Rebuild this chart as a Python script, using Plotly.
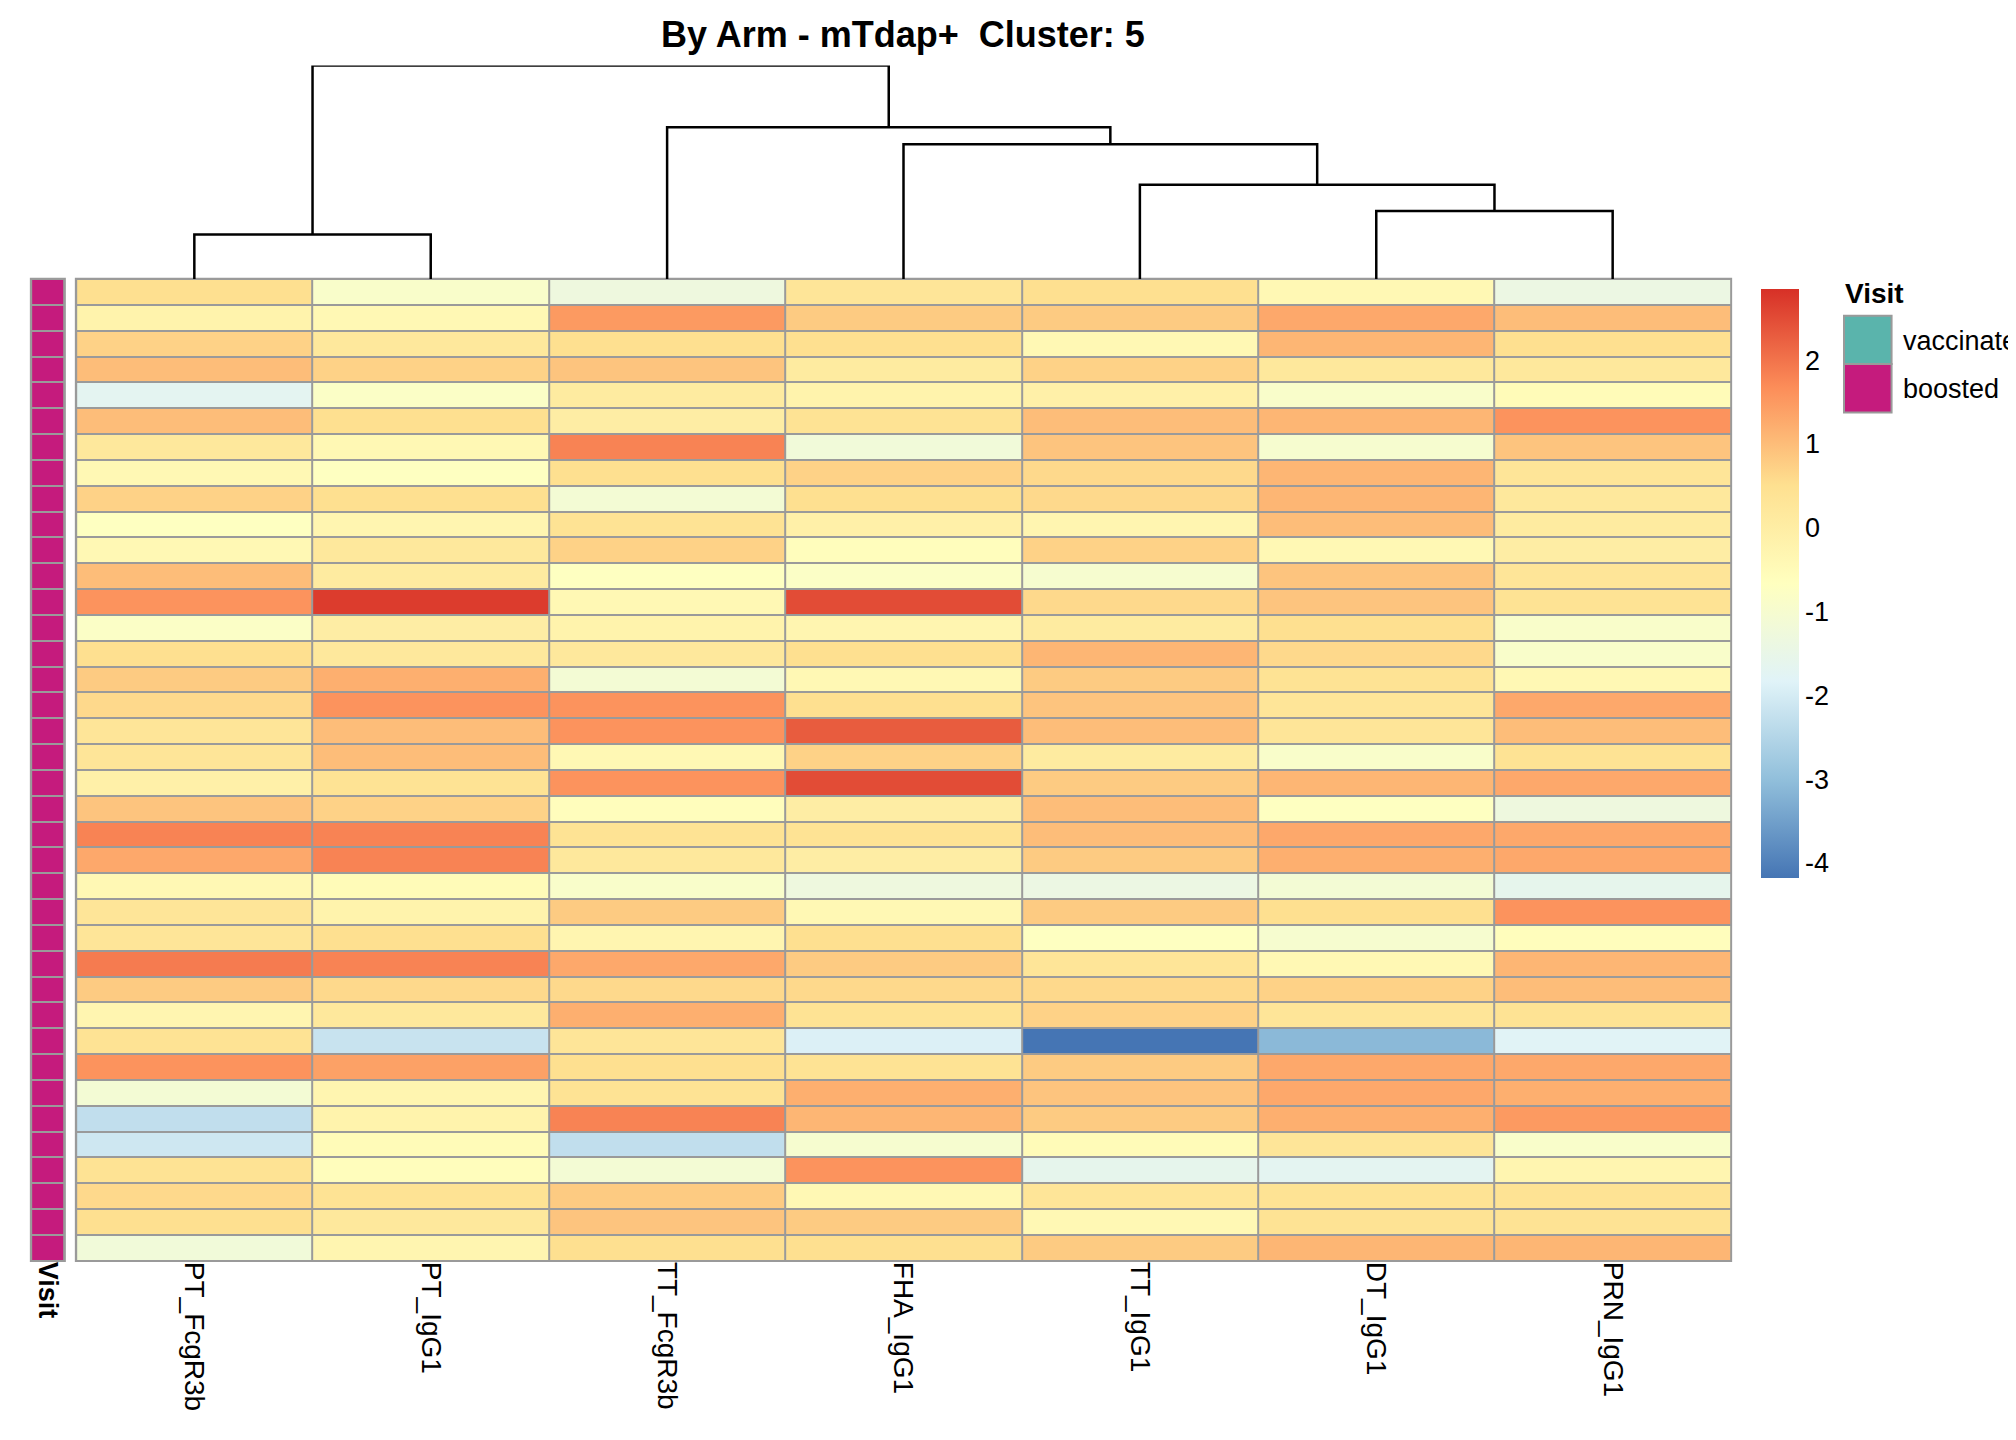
import plotly.graph_objects as go

# Column order as drawn (after clustering)
columns = ["PT_FcgR3b", "PT_IgG1", "TT_FcgR3b", "FHA_IgG1", "TT_IgG1", "DT_IgG1", "PRN_IgG1"]

# Scaled values, one row per sample (top to bottom)
values = [
    [0.5, -0.9, -1.3, 0.3, 0.5, -0.4, -1.4],
    [-0.2, -0.4, 1.5, 0.8, 0.8, 1.3, 1.0],
    [0.7, 0.2, 0.5, 0.5, -0.4, 1.1, 0.5],
    [1.0, 0.7, 0.9, 0.1, 0.7, 0.2, 0.2],
    [-1.7, -0.8, 0.1, -0.2, -0.1, -0.9, -0.5],
    [1.0, 0.5, 0.0, 0.4, 1.0, 1.1, 1.6],
    [0.2, -0.4, 1.8, -1.2, 0.9, -1.0, 0.9],
    [-0.4, -0.7, 0.5, 0.7, 0.6, 1.1, 0.3],
    [0.7, 0.5, -1.1, 0.5, 0.6, 1.1, 0.2],
    [-0.7, -0.3, 0.4, -0.1, -0.3, 1.0, 0.1],
    [-0.4, 0.2, 0.7, -0.6, 0.7, -0.4, 0.0],
    [1.0, 0.1, -0.7, -0.8, -1.0, 0.9, 0.3],
    [1.6, 2.7, -0.4, 2.5, 0.6, 0.9, 0.4],
    [-0.8, 0.0, -0.2, -0.3, 0.1, 0.5, -0.9],
    [0.5, 0.2, 0.2, 0.5, 1.1, 0.6, -0.9],
    [0.8, 1.2, -1.1, -0.4, 0.8, 0.4, -0.4],
    [0.6, 1.6, 1.6, 0.5, 0.9, 0.3, 1.3],
    [0.3, 1.0, 1.6, 2.3, 1.0, 0.3, 1.0],
    [0.3, 1.0, -0.4, 0.7, 0.1, -0.9, 0.4],
    [-0.1, 0.4, 1.6, 2.5, 0.8, 1.1, 1.3],
    [0.9, 0.7, -0.6, 0.0, 1.0, -0.7, -1.3],
    [1.8, 1.8, 0.4, 0.4, 1.0, 1.3, 1.3],
    [1.3, 1.8, 0.2, 0.0, 0.8, 1.2, 1.3],
    [-0.4, -0.5, -0.9, -1.3, -1.4, -1.1, -1.6],
    [0.3, -0.2, 0.8, -0.4, 0.8, 0.5, 1.6],
    [0.3, 0.5, -0.3, 0.5, -0.7, -1.0, -0.6],
    [1.9, 1.8, 1.3, 0.8, 0.3, -0.4, 1.1],
    [0.8, 0.6, 0.6, 0.6, 0.6, 0.7, 1.0],
    [-0.3, 0.2, 1.2, 0.4, 0.7, 0.3, 0.4],
    [0.4, -2.2, 0.3, -1.9, -4.2, -3.1, -1.8],
    [1.6, 1.4, 0.5, 0.4, 0.8, 1.3, 1.3],
    [-1.1, -0.3, 0.4, 1.2, 0.9, 1.3, 1.2],
    [-2.3, -0.2, 1.8, 1.1, 0.8, 1.2, 1.5],
    [-2.1, -0.5, -2.3, -1.0, -0.5, 0.3, -0.9],
    [0.4, -0.6, -1.1, 1.6, -1.6, -1.7, -0.3],
    [0.6, 0.4, 0.8, -0.4, 0.3, 0.4, 0.4],
    [0.5, 0.2, 0.9, 0.8, -0.4, 0.4, 0.4],
    [-1.2, -0.3, 0.5, 0.5, 0.8, 1.1, 1.1],
]
n_rows = len(values)
visit = ["boosted"] * n_rows
visit_levels = ["vaccinated", "boosted"]
visit_colors = {"vaccinated": "#5AB4AC", "boosted": "#C51B7D"}

# Column dendrogram merges: (left node, right node, height); leaves are 0..6
merges = [(0, 1, 34), (5, 6, 52), (4, 8, 72), (3, 9, 103), (2, 10, 116), (7, 11, 163)]

zmin, zmax = -4.18, 2.85
pal = ["#4575B4", "#91BFDB", "#E0F3F8", "#FFFFBF", "#FEE090", "#FC8D59", "#D73027"]
colorscale = [[i / (len(pal) - 1), c] for i, c in enumerate(pal)]
cb_ticks = [-4, -3, -2, -1, 0, 1, 2]

W, H = 1568, 1100  # reference pixel frame used for placement
def px(x): return x / W
def py(y): return 1 - y / H

font = "Liberation Sans, Arial, sans-serif"
grid = "#9A9A9A"
fig = go.Figure()

fig.add_trace(go.Heatmap(
    z=values, x=list(range(len(columns))), y=list(range(n_rows)),
    zmin=zmin, zmax=zmax, colorscale=colorscale, xgap=2, ygap=2,
    colorbar=dict(x=px(1356), xanchor="left", y=py(207), yanchor="top",
                  len=(672 - 207) / H, lenmode="fraction", thickness=38,
                  outlinewidth=0, ticks="", tickvals=cb_ticks,
                  ticktext=[str(t) for t in cb_ticks],
                  tickfont=dict(size=27, family=font, color="black")),
    xaxis="x", yaxis="y",
))

# Visit annotation column
fig.add_trace(go.Heatmap(
    z=[[visit_levels.index(v)] for v in visit], x=[0], y=list(range(n_rows)),
    zmin=0, zmax=1, showscale=False, xgap=2, ygap=2,
    colorscale=[[0, visit_colors["vaccinated"]], [1, visit_colors["boosted"]]],
    xaxis="x3", yaxis="y",
))

# Dendrogram
pos = {i: float(i) for i in range(len(columns))}
hgt = {i: 0.0 for i in range(len(columns))}
for k, (a, b, h) in enumerate(merges):
    node = len(columns) + k
    fig.add_trace(go.Scatter(
        x=[pos[a], pos[a], pos[b], pos[b]], y=[hgt[a], h, h, hgt[b]],
        mode="lines", line=dict(color="black", width=2.5), showlegend=False,
        hoverinfo="skip", xaxis="x2", yaxis="y2"))
    pos[node] = (pos[a] + pos[b]) / 2
    hgt[node] = h

# grey cell borders: rectangles behind the heatmaps
for x0, x1 in [(52, 1341), (17, 45)]:
    fig.add_shape(type="rect", xref="paper", yref="paper", layer="below",
                  x0=px(x0), x1=px(x1), y0=py(958), y1=py(206),
                  fillcolor=grid, line=dict(width=0))

xr = [-0.5, len(columns) - 0.5]
fig.update_layout(
    width=2016, height=1440, margin=dict(l=0, r=0, t=0, b=0),
    paper_bgcolor="white", plot_bgcolor="rgba(0,0,0,0)",
    font=dict(family=font, color="black"),
    title=dict(text="<b>By Arm - mTdap+  Cluster: 5</b>", x=px(696), xanchor="center",
               y=py(20), yanchor="middle", font=dict(size=36, family=font)),
    xaxis=dict(domain=[px(53), px(1340)], range=xr, tickvals=list(range(len(columns))),
               ticktext=columns, tickangle=90, side="bottom", showgrid=False,
               zeroline=False, ticks="", tickfont=dict(size=28, family=font), anchor="y"),
    yaxis=dict(domain=[py(957), py(207)], range=[n_rows - 0.5, -0.5], showticklabels=False,
               showgrid=False, zeroline=False),
    xaxis2=dict(domain=[px(53), px(1340)], range=xr, visible=False, anchor="y2"),
    yaxis2=dict(domain=[py(207), py(44)], range=[0, 163], visible=False),
    xaxis3=dict(domain=[px(18), px(44)], range=[-0.5, 0.5], tickvals=[0],
                ticktext=["<b>Visit</b>"], tickangle=90, ticks="", showgrid=False,
                zeroline=False, tickfont=dict(size=27, family=font), anchor="y"),
)

# Visit legend
fig.add_annotation(x=px(1427), y=py(218), xref="paper", yref="paper", xanchor="left",
                   yanchor="middle", text="<b>Visit</b>", showarrow=False,
                   font=dict(size=28, family=font))
for i, lev in enumerate(visit_levels):
    top = 235 + i * 37
    fig.add_shape(type="rect", xref="paper", yref="paper", x0=px(1428), x1=px(1465),
                  y0=py(top), y1=py(top + 37), fillcolor=visit_colors[lev],
                  line=dict(color=grid, width=2))
    fig.add_annotation(x=px(1472), y=py(top + 19), xref="paper", yref="paper",
                       xanchor="left", yanchor="middle", text=lev, showarrow=False,
                       font=dict(size=27, family=font))

fig.write_html("out.html")
